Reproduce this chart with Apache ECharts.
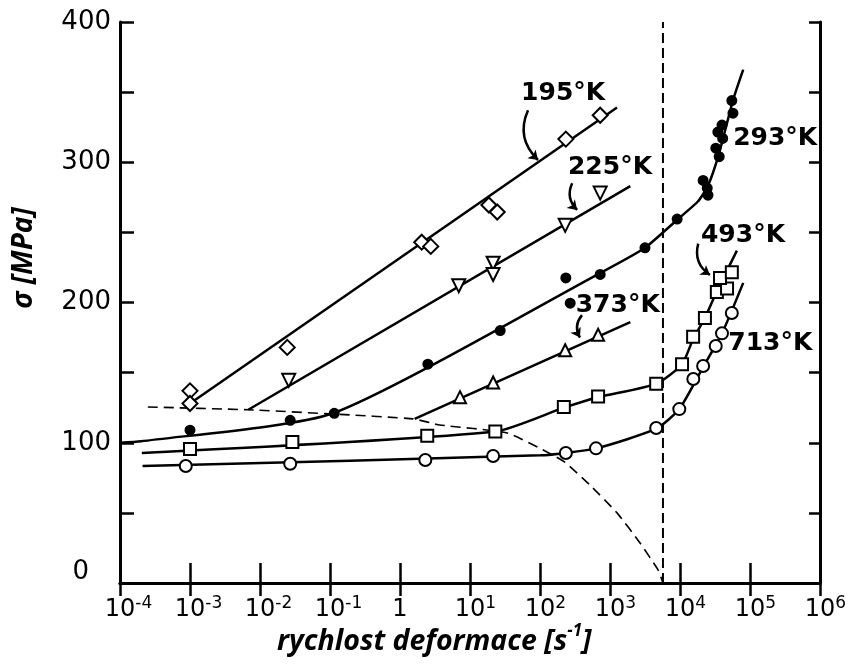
<!DOCTYPE html>
<html>
<head>
<meta charset="utf-8">
<script src="https://cdn.jsdelivr.net/npm/echarts@6/dist/echarts.min.js"></script>
<style>
html, body { margin: 0; padding: 0; background: #fff; }
#main { width: 849px; height: 671px; }
</style>
</head>
<body>
<div id="main"></div>
<script>
// tick labels of the log axis (10^-4 .. 10^6)
var xTickLabels = ['10^-4', '10^-3', '10^-2', '10^-1', '1', '10^1', '10^2', '10^3', '10^4', '10^5', '10^6'];

// 195 K - open diamonds
var k195Points = [[1e-3, 137], [1e-3, 128], [0.0245, 168], [2.04, 243], [2.75, 240], [18.6, 269.5], [24.5, 264.5], [234, 316.5], [724, 333.5]];
var k195Line = [[1e-3, 128], [1260, 339]];

// 225 K - open triangles (down)
var k225Points = [[0.0257, 144.5], [6.9, 212], [21.4, 228], [21.4, 220], [229, 255], [724, 278]];
var k225Line = [[0.0068, 123.5], [1950, 283]];

// 293 K - filled circles
var k293Points = [[1e-3, 109], [0.027, 116], [0.115, 121], [2.5, 156], [27, 180], [234, 217.5], [270, 199.5], [724, 220], [3160, 239], [9100, 259.5],
  [21400, 287], [24500, 281.5], [25100, 276.5], [32500, 310], [36300, 304], [34700, 321.5], [40700, 317], [39800, 326.5], [57100, 335], [55000, 344]];
var k293Line = [[1e-4, 100], [2e-4, 101], [0.11, 121], [724, 221], [3160, 239], [9100, 259], [18000, 272], [25000, 283], [36000, 306], [57000, 344], [80000, 366]];

// 373 K - open triangles (up)
var k373Points = [[7.2, 132.5], [21.4, 143], [229, 166], [676, 177]];
var k373Line = [[1.62, 117], [1950, 186]];

// 493 K - open squares
var k493Points = [[1e-3, 95.5], [0.029, 100.5], [2.45, 105], [23, 108], [219, 125.5], [676, 133], [4570, 142], [10700, 156], [15400, 175.5], [22700, 189], [33600, 207.5], [47000, 210], [37300, 217.5], [55000, 221.5]];
var k493Line = [[2.05e-4, 92.7], [23, 108], [219, 125], [676, 132.5], [4570, 142], [10700, 156], [15400, 174], [22700, 189], [33600, 208], [65000, 237]];

// 713 K - open circles
var k713Points = [[8.7e-4, 83.4], [0.027, 85], [2.3, 87.7], [21.4, 90.5], [234, 92.7], [631, 96], [4570, 110.5], [9770, 124], [15500, 145.5], [21400, 154.7], [32400, 169], [39800, 178], [55000, 192.5]];
var k713Line = [[2.1e-4, 83.4], [100, 91], [631, 96], [4570, 110], [9770, 124], [21400, 154], [39800, 178], [80000, 214]];

// dashed theoretical curve and the vertical limit
var dashCurve = [[2.5e-4, 125.5], [0.0068, 123.5], [0.11, 120.5], [1.55, 117], [3.7, 112.7], [34, 107], [126, 93.4], [229, 86], [513, 70], [1260, 50], [2690, 28.5], [4900, 9], [5710, 0]];
var limitLine = [[5710, 0], [5710, 400]];

// temperature labels and their arrows
var tempNames = ['195°K', '225°K', '293°K', '373°K', '493°K', '713°K'];
var tempLabelPos = [[214, 349], [1000, 296.6], [229000, 317], [1290, 198], [79400, 248], [195000, 171]];
var arrowCoords = [
  [[67.4, 337], [93.6, 301.6]],
  [[288, 285], [339, 266]],
  [[398, 191], [372, 175]],
  [[18200, 242], [26800, 219.6]]
];

var textFont = 'DejaVu Sans';

function xLabel(text) {
  var parts = text.split('^');
  if (parts.length < 2) {
    return '{b|' + text + '}';
  }
  var pad = parts[1].length > 1 ? 'p2' : 'p1';
  return '{' + pad + '|}{b|' + parts[0] + '}{s|' + parts[1] + '}';
}

function fitLine(data, smooth) {
  return {
    type: 'line',
    data: data,
    showSymbol: false,
    symbol: 'none',
    smooth: smooth || false,
    lineStyle: { color: '#000', width: 2.5 },
    z: 2,
    silent: true
  };
}

function markers(data, symbol, size, filled, rotate) {
  return {
    type: 'scatter',
    data: data,
    symbol: symbol,
    symbolSize: size,
    symbolRotate: rotate || 0,
    itemStyle: {
      color: filled ? '#000' : '#fff',
      borderColor: '#000',
      borderWidth: 2,
      opacity: 1
    },
    z: 5,
    silent: true
  };
}

var chart = echarts.init(document.getElementById('main'));

var labelData = [];
for (var i = 0; i < tempNames.length; i++) {
  labelData.push({ name: tempNames[i], value: tempLabelPos[i] });
}

var option = {
  animation: false,
  backgroundColor: '#fff',
  grid: { left: 120, right: 29, top: 22, bottom: 88, containLabel: false, outerBoundsMode: 'none' },
  xAxis: [{
    type: 'log',
    logBase: 10,
    min: 1e-4,
    max: 1e6,
    splitNumber: 10,
    axisLine: { lineStyle: { color: '#000', width: 3 } },
    axisTick: { inside: true, length: 20, lineStyle: { color: '#000', width: 2.5 } },
    splitLine: { show: false },
    minorTick: { show: false },
    axisLabel: {
      margin: 12,
      color: '#000',
      fontFamily: textFont,
      fontSize: 24,
      formatter: function (v) {
        var i = Math.round(Math.log(v) / Math.LN10) + 4;
        return xLabel(xTickLabels[i]);
      },
      rich: {
        b: { fontFamily: textFont, fontSize: 24, color: '#000', lineHeight: 30 },
        s: { fontFamily: textFont, fontSize: 17, color: '#000', verticalAlign: 'top', lineHeight: 17 },
        p1: { width: 11 },
        p2: { width: 17 }
      }
    }
  }, {
    type: 'log',
    logBase: 10,
    min: 1e-4,
    max: 1e6,
    splitNumber: 10,
    position: 'top',
    axisLine: { lineStyle: { color: '#000', width: 3 } },
    axisTick: { inside: true, length: 13, lineStyle: { color: '#000', width: 2.5 } },
    axisLabel: { show: false },
    splitLine: { show: false }
  }],
  yAxis: [{
    type: 'value',
    min: 0,
    max: 400,
    interval: 50,
    axisLine: { show: true, lineStyle: { color: '#000', width: 3 } },
    axisTick: { show: true, inside: true, length: 14, lineStyle: { color: '#000', width: 2.5 } },
    splitLine: { show: false },
    axisLabel: {
      margin: 9,
      color: '#000',
      fontFamily: textFont,
      fontSize: 26,
      formatter: function (v) {
        if (v === 0) return '{z|0}';
        return v % 100 === 0 ? String(v) : '';
      },
      rich: {
        z: { fontFamily: textFont, fontSize: 26, color: '#000', padding: [0, 22, 22, 0] }
      }
    }
  }, {
    type: 'value',
    min: 0,
    max: 400,
    interval: 50,
    position: 'right',
    axisLine: { show: true, lineStyle: { color: '#000', width: 3 } },
    axisTick: { show: true, inside: true, length: 11, lineStyle: { color: '#000', width: 2.5 } },
    axisLabel: { show: false },
    splitLine: { show: false }
  }],
  graphic: [{
    type: 'text',
    x: 277,
    y: 623,
    style: {
      text: '{t|rychlost deformace [s}{u|-1}{t|]}',
      rich: {
        t: { fontFamily: 'Open Sans', fontStyle: 'italic', fontWeight: 'bold', fontSize: 28.5, fill: '#000', lineHeight: 37 },
        u: { fontFamily: 'Open Sans', fontStyle: 'italic', fontWeight: 'bold', fontSize: 17, fill: '#000', verticalAlign: 'top', lineHeight: 19 }
      }
    }
  }, {
    type: 'text',
    x: 24,
    y: 258,
    rotation: Math.PI / 2,
    style: {
      text: 'σ [MPa]',
      fontFamily: 'Open Sans',
      fontStyle: 'italic',
      fontWeight: 'bold',
      fontSize: 28,
      fill: '#000',
      align: 'center',
      verticalAlign: 'middle'
    }
  }],
  series: [
    fitLine(k195Line),
    fitLine(k225Line),
    fitLine(k293Line, 0.2),
    fitLine(k373Line),
    fitLine(k493Line, 0.2),
    fitLine(k713Line, 0.2),
    {
      type: 'line',
      data: dashCurve,
      symbol: 'none',
      smooth: 0.15,
      lineStyle: { color: '#000', width: 1.6, type: [10, 6] },
      z: 1,
      silent: true
    },
    {
      type: 'line',
      data: limitLine,
      symbol: 'none',
      lineStyle: { color: '#000', width: 2, type: [10, 5] },
      z: 1,
      silent: true
    },
    markers(k195Points, 'diamond', 15, false),
    markers(k225Points, 'triangle', 13, false, 180),
    markers(k293Points, 'circle', 9, true),
    markers(k373Points, 'triangle', 12, false),
    markers(k493Points, 'rect', 12, false),
    markers(k713Points, 'circle', 12, false),
    {
      type: 'lines',
      coordinateSystem: 'cartesian2d',
      data: arrowCoords.map(function (c) { return { coords: c }; }),
      symbol: ['none', 'arrow'],
      symbolSize: 9,
      lineStyle: { color: '#000', width: 2.5, curveness: -0.35, opacity: 1 },
      z: 6,
      silent: true
    },
    {
      type: 'scatter',
      data: labelData,
      symbolSize: 1,
      itemStyle: { color: 'rgba(0,0,0,0)', opacity: 1 },
      label: {
        show: true,
        position: 'inside',
        formatter: '{b}',
        fontFamily: textFont,
        fontSize: 25,
        fontWeight: 'bold',
        color: '#000',
        opacity: 1,
        textBorderWidth: 0
      },
      z: 7,
      silent: true
    }
  ]
};

chart.setOption(option);
</script>
</body>
</html>
